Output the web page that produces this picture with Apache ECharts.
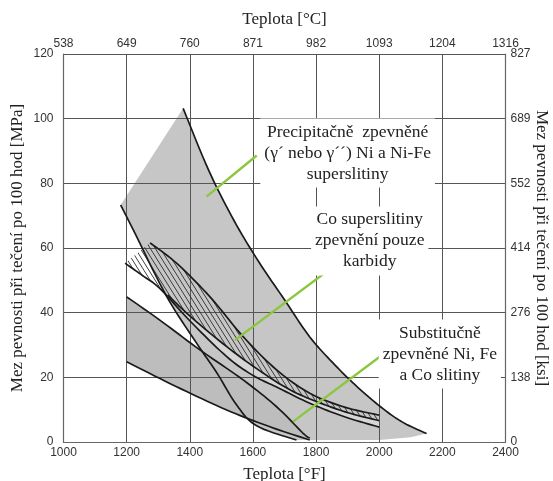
<!DOCTYPE html>
<html>
<head>
<meta charset="utf-8">
<script src="https://cdn.jsdelivr.net/npm/echarts@6/dist/echarts.min.js"></script>
<style>
html,body{margin:0;padding:0;background:#fff;}
#chart{width:553px;height:481px;}
</style>
</head>
<body>
<div id="chart"></div>
<script>
// ---- axis ticks / labels ----
const fahrTicks = [1000, 1200, 1400, 1600, 1800, 2000, 2200, 2400];
const celsiusLabels = ['538', '649', '760', '871', '982', '1093', '1204', '1316'];
const mpaTicks = [0, 20, 40, 60, 80, 100, 120];
const ksiLabels = ['0', '138', '276', '414', '552', '689', '827'];

// ---- precipitation hardened (gamma') region ----
const precipLeft = [[1181, 73.3], [1221, 65.6], [1327, 45], [1422, 30.5], [1485, 21.5], [1548, 11.5], [1612, 5], [1738, 0.6]];
const precipBottom = [[1738, 0.6], [2000, 0.6], [2100, 1.5], [2150, 2.6]];
const precipRight = [[1379, 103.2], [1460, 84], [1540, 68.5], [1620, 55.5], [1700, 44], [1780, 32.5], [1860, 23.8], [1940, 16.2], [2020, 9.7], [2080, 5.8], [2150, 2.6]];

// ---- Co superalloys (carbide strengthened) band ----
const coUpper = [[1274, 61.6], [1358, 55.3], [1464, 44.9], [1569, 32.6], [1675, 22.3], [1780, 15.1], [1890, 10.8], [2000, 8.3]];
const coInner = [[1330, 45.5], [1400, 39], [1517, 29.5], [1622, 22], [1720, 16], [1820, 11.8], [1910, 8.8], [2000, 6.6]];
const coLower = [[1195, 55.3], [1250, 51.5], [1305, 47.5], [1400, 37.5], [1517, 26.4], [1600, 20.6], [1675, 17], [1780, 12], [1890, 7.8], [2000, 4.6]];

// ---- solid-solution strengthened band ----
const substUpper = [[1200, 44.9], [1305, 37.7], [1432, 28.5], [1569, 19.2], [1675, 10.9], [1759, 2.7], [1780, 1.2]];
const substLower = [[1200, 24.8], [1358, 17.1], [1517, 9.9], [1654, 4.7], [1780, 0.6]];

// ---- green leader lines ----
const leaderPrecip = [[1612, 88.6], [1453, 75.9]];
const leaderCo = [[1840, 53.2], [1543, 31.5]];
const leaderSubst = [[2005, 26.6], [1727, 6.3]];

// ---- annotation texts ----
const textPrecip = 'Precipitačně  zpevněné\n(γ´ nebo γ´´) Ni a Ni-Fe\nsuperslitiny';
const textCo = 'Co superslitiny\nzpevnění pouze\nkarbidy';
const textSubst = 'Substitučně\nzpevněné Ni, Fe\na Co slitiny';

// ================= drawing helpers =================
function spline(pts, steps) {
  steps = steps || 10;
  if (pts.length < 3) return pts.slice();
  const out = [];
  const n = pts.length;
  for (let i = 0; i < n - 1; i++) {
    const p0 = pts[Math.max(i - 1, 0)], p1 = pts[i], p2 = pts[i + 1], p3 = pts[Math.min(i + 2, n - 1)];
    for (let s = 0; s < steps; s++) {
      const t = s / steps, t2 = t * t, t3 = t2 * t;
      const x = 0.5 * ((2 * p1[0]) + (-p0[0] + p2[0]) * t + (2 * p0[0] - 5 * p1[0] + 4 * p2[0] - p3[0]) * t2 + (-p0[0] + 3 * p1[0] - 3 * p2[0] + p3[0]) * t3);
      const y = 0.5 * ((2 * p1[1]) + (-p0[1] + p2[1]) * t + (2 * p0[1] - 5 * p1[1] + 4 * p2[1] - p3[1]) * t2 + (-p0[1] + 3 * p1[1] - 3 * p2[1] + p3[1]) * t3);
      out.push([x, y]);
    }
  }
  out.push(pts[n - 1]);
  return out;
}
function px(api, arr) { return arr.map(p => api.coord(p)); }
function curve(api, arr) { return spline(px(api, arr)); }

function hatchPattern() {
  const c = document.createElement('canvas');
  c.width = 5; c.height = 8;
  const g = c.getContext('2d');
  g.strokeStyle = '#2a2a2a';
  g.lineWidth = 0.9;
  for (let k = -5; k <= 5; k += 5) {
    g.beginPath();
    g.moveTo(k, 0);
    g.lineTo(k + 5, 8);
    g.stroke();
  }
  return c;
}
const hatch = hatchPattern();

const LINE = '#1a1a1a';
const serif = '"Liberation Serif", "Times New Roman", serif';
const sans = '"Liberation Sans", Arial, sans-serif';

function custom(z, build) {
  return {
    type: 'custom', coordinateSystem: 'cartesian2d', silent: true, z: z,
    clip: false, data: [[1000, 0]],
    renderItem: function (params, api) { return build(api); }
  };
}

const series = [
  // gamma' region fill
  custom(1, api => ({
    type: 'polygon',
    shape: { points: curve(api, precipLeft).concat(px(api, precipBottom), curve(api, precipRight).reverse()) },
    style: { fill: '#c6c6c6' }
  })),
  // substitution band fill
  custom(1, api => ({
    type: 'polygon',
    shape: { points: curve(api, substUpper).concat(curve(api, substLower).reverse()) },
    style: { fill: '#bdbdbd' }
  })),
  // light band between inner line and lower line of Co band
  custom(1, api => ({
    type: 'polygon',
    shape: { points: curve(api, coInner).concat(curve(api, coLower.filter(p => p[0] >= 1305)).reverse()) },
    style: { fill: '#d6d6d6' }
  })),
  // Co hatched band
  custom(4, api => ({
    type: 'polygon',
    shape: { points: curve(api, coUpper).concat(curve(api, coInner).reverse(), curve(api, coLower.filter(p => p[0] <= 1305)).reverse()) },
    style: { fill: { image: hatch, repeat: 'repeat' } }
  })),
  // black curves
  custom(5, api => ({
    type: 'group',
    children: [precipLeft, precipRight, coUpper, coInner, coLower, substUpper, substLower].map(arr => ({
      type: 'polyline',
      shape: { points: curve(api, arr) },
      style: { stroke: LINE, lineWidth: 1.7, fill: null }
    }))
  })),
  // green leaders
  custom(6, api => ({
    type: 'group',
    children: [leaderPrecip, leaderCo, leaderSubst].map(arr => ({
      type: 'polyline',
      shape: { points: px(api, arr) },
      style: { stroke: '#8cc63f', lineWidth: 2.4, fill: null }
    }))
  })),
  // annotation texts
  custom(10, api => {
    const items = [
      { t: textPrecip, at: api.coord([1900, 89.4]) },
      { t: textCo, at: api.coord([1970, 62.2]) },
      { t: textSubst, at: api.coord([2192, 27.2]) }
    ];
    return {
      type: 'group',
      children: items.map(it => ({
        type: 'text', x: it.at[0], y: it.at[1],
        style: {
          text: it.t, font: '17.5px ' + serif, fill: '#222',
          align: 'center', verticalAlign: 'middle', lineHeight: 21,
          backgroundColor: '#fff', padding: [3, 4, 3, 4]
        }
      }))
    };
  })
];

const gridLine = { show: true, lineStyle: { color: '#555', width: 1 } };
const axisLine = { show: true, lineStyle: { color: '#666', width: 1.2 } };
const nameStyle = { fontFamily: serif, fontSize: 17, color: '#222' };
const labelBase = { fontFamily: sans, fontSize: 12, color: '#333' };

const option = {
  animation: false,
  backgroundColor: '#fff',
  grid: { left: 63.5, right: 47.5, top: 54, bottom: 39, containLabel: false, outerBoundsMode: 'none' },
  xAxis: [
    {
      type: 'value', position: 'bottom', min: fahrTicks[0], max: fahrTicks[fahrTicks.length - 1], interval: 200, z: 3,
      name: 'Teplota [°F]', nameLocation: 'middle', nameGap: 24, nameMoveOverlap: false, nameTextStyle: nameStyle,
      axisLine: axisLine, axisTick: { show: false }, splitLine: gridLine,
      axisLabel: Object.assign({ margin: 5, formatter: v => String(v) }, labelBase)
    },
    {
      type: 'value', position: 'top', min: fahrTicks[0], max: fahrTicks[fahrTicks.length - 1], interval: 200, z: 3,
      name: 'Teplota [°C]', nameLocation: 'middle', nameGap: 26, nameMoveOverlap: false, nameTextStyle: nameStyle,
      axisLine: axisLine, axisTick: { show: false }, splitLine: { show: false },
      axisLabel: Object.assign({ margin: 4, formatter: v => celsiusLabels[fahrTicks.indexOf(v)] }, labelBase)
    }
  ],
  yAxis: [
    {
      type: 'value', position: 'left', min: mpaTicks[0], max: mpaTicks[mpaTicks.length - 1], interval: 20, z: 3,
      name: 'Mez pevnosti při tečení po 100 hod [MPa]', nameLocation: 'middle', nameGap: 37, nameMoveOverlap: false, nameTextStyle: nameStyle,
      axisLine: axisLine, axisTick: { show: false }, splitLine: gridLine,
      axisLabel: Object.assign({ margin: 10 }, labelBase)
    },
    {
      type: 'value', position: 'right', min: mpaTicks[0], max: mpaTicks[mpaTicks.length - 1], interval: 20, z: 3,
      name: 'Mez pevnosti při tečení po 100 hod [ksi]', nameLocation: 'middle', nameGap: 27, nameRotate: -90, nameMoveOverlap: false, nameTextStyle: nameStyle,
      axisLine: axisLine, axisTick: { show: false }, splitLine: { show: false },
      axisLabel: Object.assign({ margin: 5, formatter: v => ksiLabels[mpaTicks.indexOf(v)] }, labelBase)
    }
  ],
  series: series
};

const chart = echarts.init(document.getElementById('chart'), null, { renderer: 'canvas' });
chart.setOption(option);
</script>
</body>
</html>
